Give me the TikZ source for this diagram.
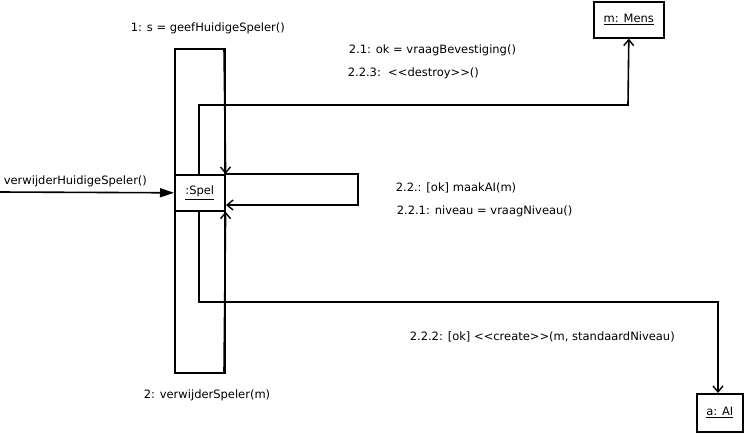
\documentclass[tikz,border=0pt]{standalone}
\usepackage{fontspec}
\setmainfont{DejaVu Sans}
\usetikzlibrary{arrows.meta}
\begin{document}
\begin{tikzpicture}[x=1pt,y=-1pt,line width=1.6pt,
  box/.style={draw,fill=white,line width=1.6pt,inner sep=0pt,font=\fontsize{11.5}{13}\selectfont},
  lbl/.style={anchor=base west,inner sep=0pt,font=\fontsize{11.5}{13}\selectfont},
  open/.style={-{Straight Barb[length=6pt,width=10pt,line width=1.4pt]}},
  filled/.style={-{Triangle[length=14pt,width=9pt]}}]
\useasboundingbox (0,0) rectangle (745,445);
% activation bar
\node[draw,line width=1.6pt,minimum width=50pt,minimum height=324pt,inner sep=0pt,anchor=north west] (act) at (174,48) {};
% objects
\node[box,minimum width=50pt,minimum height=36pt,anchor=north west] (spel) at (174,174) {\underline{:Spel}};
\node[box,minimum width=70pt,minimum height=36pt,anchor=north west] (mens) at (593,1) {\underline{m: Mens}};
\node[box,minimum width=46pt,minimum height=38pt,anchor=north west] (ai) at (696,393) {\underline{a: AI}};
% coordinates
\coordinate (start) at (0,192);
\coordinate (mt) at (199,174);
\coordinate (mb) at (199,210);
\coordinate (rt) at (224,48);
\coordinate (rb) at (224,372);
\coordinate (loopend) at (226,205);
% incoming message
\draw[filled] (start) -- (spel.west);
% call to self along activation
\draw[open] (rt) -- (spel.north east);
\draw[open] (rb) -- (spel.south east);
% self loop
\draw[open] (spel.north east) -- (358,174) -- (358,205) -- (loopend);
% to Mens
\draw[open] (mt) -- (199,105) -- (628,105) -- (mens.south);
% to AI
\draw[open] (mb) -- (199,302) -- (718,302) -- (ai.north -| 718,0);
% labels
\node[lbl] (l0) at (3,184) {verwijderHuidigeSpeler()};
\node[lbl] (l1) at (130,31) {1: s = geefHuidigeSpeler()};
\node[lbl] (l21) at (348,53) {2.1: ok = vraagBevestiging()};
\node[lbl] (l223) at (347,76) {2.2.3:\ \ <{}<destroy>{}>()};
\node[lbl] (l22) at (395,191) {2.2.: [ok] maakAI(m)};
\node[lbl] (l221) at (396,214) {2.2.1: niveau = vraagNiveau()};
\node[lbl] (l222) at (409,340) {2.2.2: [ok] <{}<create>{}>(m, standaardNiveau)};
\node[lbl] (l2) at (143,398) {2: verwijderSpeler(m)};
\end{tikzpicture}
\end{document}
